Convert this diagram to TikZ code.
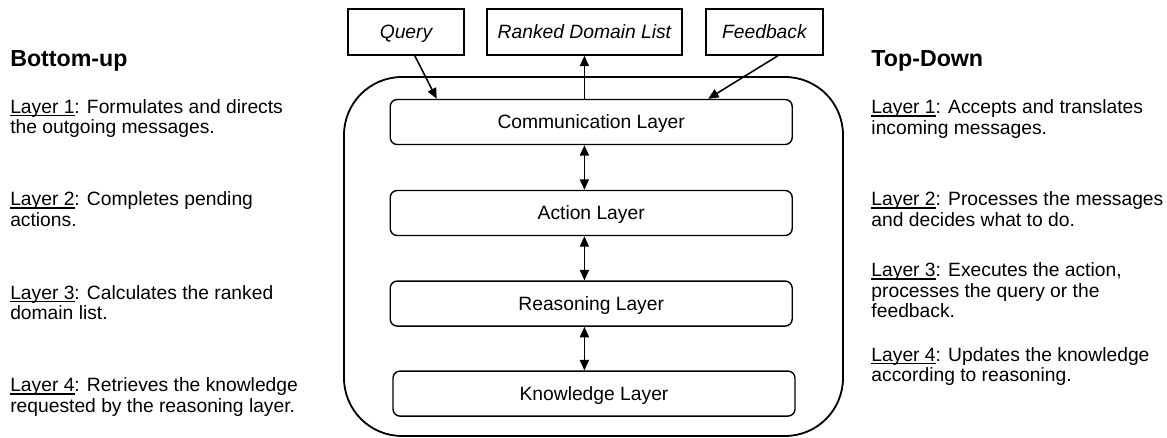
\documentclass[tikz,border=0pt]{standalone}
\usepackage{fontspec}
\setmainfont{Liberation Sans}
\usepackage{tikz}
\usetikzlibrary{arrows.meta,calc,positioning}
\newcommand{\bodysize}{\fontsize{13.7}{14.6}\selectfont}
\tikzset{
  iobox/.style={draw, line width=1pt, minimum width=#1, minimum height=1.15cm, inner sep=0pt, text height=11.8pt, text depth=2pt, font=\bodysize\itshape},
  layerbox/.style={draw, line width=1pt, rounded corners=5pt, minimum width=10.05cm, minimum height=1.125cm, inner sep=0pt, text height=11.8pt, text depth=2pt},
  agentframe/.style={draw, line width=1.3pt, rounded corners=1.45cm},
  heading/.style={anchor=base west, inner sep=0pt, font=\fontsize{16.5}{18}\selectfont\bfseries},
  note/.style={anchor=base west, inner sep=0pt, align=left},
  flow/.style={line width=1.1pt, -{Triangle[length=7.5pt,width=6.5pt]}},
  twoway/.style={line width=1.1pt, {Triangle[length=7.5pt,width=6.5pt]}-{Triangle[length=7.5pt,width=6.5pt]}}
}
% underlined layer tag, rule kept close to the baseline
\newcommand{\lay}[1]{\begingroup\setbox0\hbox{Layer #1}\rlap{\rule[-2pt]{\wd0}{0.9pt}}\box0\endgroup}

\begin{document}
\begin{tikzpicture}[font=\bodysize]
  \useasboundingbox (0,0) rectangle (29.175,-10.95);

  % messages in and out
  \node[iobox=2.9cm] (query) at (10.15,-0.8) {Query};
  \node[iobox=4.875cm] (rank) at (14.61,-0.8) {Ranked Domain List};
  \node[iobox=2.925cm] (feed) at (19.11,-0.8) {Feedback};

  % the agent and its layers
  \draw[agentframe] (8.6,-1.925) rectangle (21.075,-10.9);
  \node[layerbox] (comm) at (14.78,-3.05) {Communication Layer};
  \node[layerbox] (act) at (14.78,-5.325) {Action Layer};
  \node[layerbox] (reas) at (14.78,-7.59) {Reasoning Layer};
  \node[layerbox] (know) at (14.85,-9.84) {Knowledge Layer};

  \draw[flow] ([xshift=0.22cm]query.south) -- ([xshift=1.18cm]comm.north west);
  \draw[flow] (comm.north -| rank.south) -- (rank.south);
  \draw[flow] ([xshift=0.34cm]feed.south) -- ([xshift=-2.12cm]comm.north east);
  \draw[twoway] (comm.south -| rank.south) -- (act.north -| rank.south);
  \draw[twoway] (act.south -| rank.south) -- (reas.north -| rank.south);
  \draw[twoway] (reas.south -| rank.south) -- (know.north -| rank.south);

  % left column (placed by the baseline of the last line)
  \node[heading] (bu) at (0.25,-1.675) {Bottom-up};
  \node[note] (bu1) at (0.25,-3.34) {\lay{1}: Formulates and directs\\the outgoing messages.};
  \node[note] (bu2) at (0.25,-5.66) {\lay{2}: Completes pending\\actions.};
  \node[note] (bu3) at (0.25,-7.99) {\lay{3}: Calculates the ranked\\domain list.};
  \node[note] (bu4) at (0.25,-10.31) {\lay{4}: Retrieves the knowledge\\requested by the reasoning layer.};

  % right column
  \node[heading] (td) at (21.78,-1.675) {Top-Down};
  \node[note] (td1) at (21.78,-3.36) {\lay{1}: Accepts and translates\\incoming messages.};
  \node[note] (td2) at (21.78,-5.66) {\lay{2}: Processes the messages\\and decides what to do.};
  \node[note] (td3) at (21.78,-7.95) {\lay{3}: Executes the action,\\processes the query or the\\feedback.};
  \node[note] (td4) at (21.78,-9.54) {\lay{4}: Updates the knowledge\\according to reasoning.};
\end{tikzpicture}
\end{document}
